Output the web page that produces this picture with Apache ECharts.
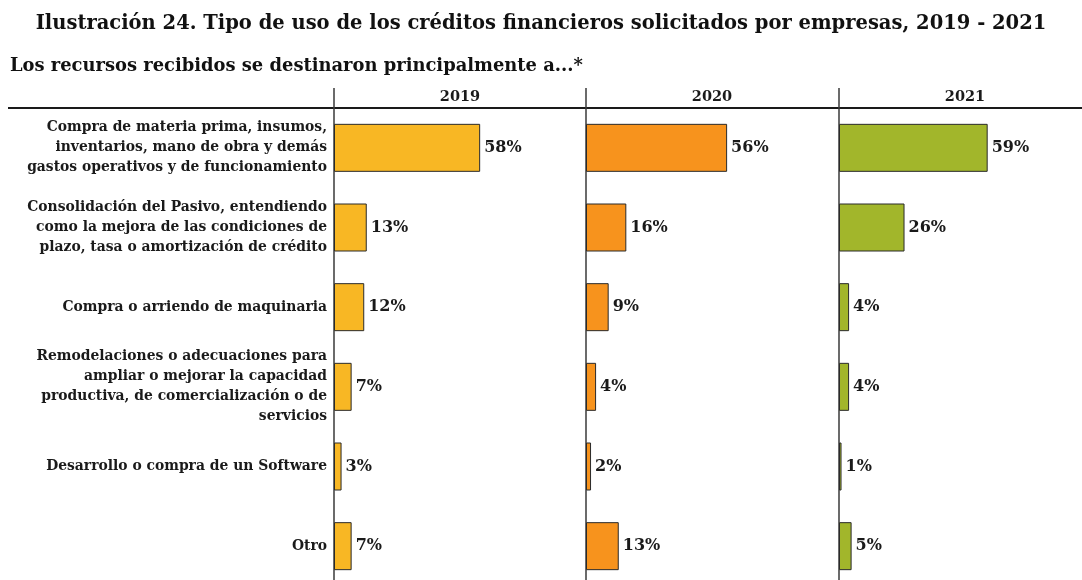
<!DOCTYPE html>
<html>
<head>
<meta charset="utf-8">
<script src="https://cdn.jsdelivr.net/npm/echarts@6/dist/echarts.min.js"></script>
<style>
  html, body { margin: 0; padding: 0; background: #fff; }
  #chart { width: 1082px; height: 580px; }
</style>
</head>
<body>
<div id="chart"></div>
<script>
const categories = [
  'Compra de materia prima, insumos,\ninventarios, mano de obra y demás\ngastos operativos y de funcionamiento',
  'Consolidación del Pasivo, entendiendo\ncomo la mejora de las condiciones de\nplazo, tasa o amortización de crédito',
  'Compra o arriendo de maquinaria',
  'Remodelaciones o adecuaciones para\nampliar o mejorar la capacidad\nproductiva, de comercialización o de\nservicios',
  'Desarrollo o compra de un Software',
  'Otro'
];
const years = ['2019', '2020', '2021'];
const values2019 = [58, 13, 12, 7, 3, 7];
const values2020 = [56, 16, 9, 4, 2, 13];
const values2021 = [59, 26, 4, 4, 1, 5];
const seriesValues = [values2019, values2020, values2021];
const colors = ['#F8B724', '#F7931D', '#A2B62B'];

const font = 'DejaVu Serif';
const panelLeft = [334, 586, 839];
const panelWidth = 252;

const chart = echarts.init(document.getElementById('chart'));

// panels run past the page edge (right and bottom), so no clamping
const grids = panelLeft.map(l => ({
  left: l, top: 108, width: panelWidth, height: 478, outerBoundsMode: 'none'
}));

const xAxes = years.map((y, i) => ({
  type: 'value', gridIndex: i, min: 0, max: 100, position: 'top',
  name: y, nameLocation: 'middle', nameGap: 3,
  nameTextStyle: { fontFamily: font, fontWeight: 'bold', fontSize: 14.5, color: '#1a1a1a' },
  axisLine: { show: false }, axisTick: { show: false },
  axisLabel: { show: false }, splitLine: { show: false }
}));

const yAxes = years.map((y, i) => ({
  type: 'category', gridIndex: i, data: categories, inverse: true,
  axisLine: { show: true, lineStyle: { color: '#3a3a3a', width: 1.5 } },
  axisTick: { show: false },
  axisLabel: {
    show: i === 0, margin: 7, align: 'right', lineHeight: 20,
    fontFamily: font, fontWeight: 'bold', fontSize: 13.9, color: '#1a1a1a'
  }
}));

const series = seriesValues.map((vals, i) => ({
  type: 'bar', xAxisIndex: i, yAxisIndex: i, data: vals, barWidth: 48,
  itemStyle: { color: colors[i], borderColor: '#2a2a2a', borderWidth: 1 },
  label: {
    show: true, position: 'right', distance: 4, formatter: '{c}%',
    fontFamily: font, fontWeight: 'bold', fontSize: 16, color: '#1a1a1a'
  }
}));

// header rule and the part of the panel dividers above it
const graphics = [
  { type: 'line', shape: { x1: 8, y1: 108, x2: 1082, y2: 108 }, style: { stroke: '#1a1a1a', lineWidth: 2 } }
].concat(panelLeft.map(l => ({
  type: 'line', shape: { x1: l, y1: 88, x2: l, y2: 108 }, style: { stroke: '#3a3a3a', lineWidth: 1.5 }
})));

chart.setOption({
  animation: false,
  backgroundColor: '#fff',
  title: [
    {
      text: 'Ilustración 24. Tipo de uso de los créditos financieros solicitados por empresas, 2019 - 2021',
      left: 'center', top: 9,
      textStyle: { fontFamily: font, fontWeight: 'bold', fontSize: 19.5, color: '#111' }
    },
    {
      text: 'Los recursos recibidos se destinaron principalmente a...*',
      left: 5, top: 52,
      textStyle: { fontFamily: font, fontWeight: 'bold', fontSize: 17.9, color: '#111' }
    }
  ],
  grid: grids,
  xAxis: xAxes,
  yAxis: yAxes,
  series: series,
  graphic: graphics
});
</script>
</body>
</html>
